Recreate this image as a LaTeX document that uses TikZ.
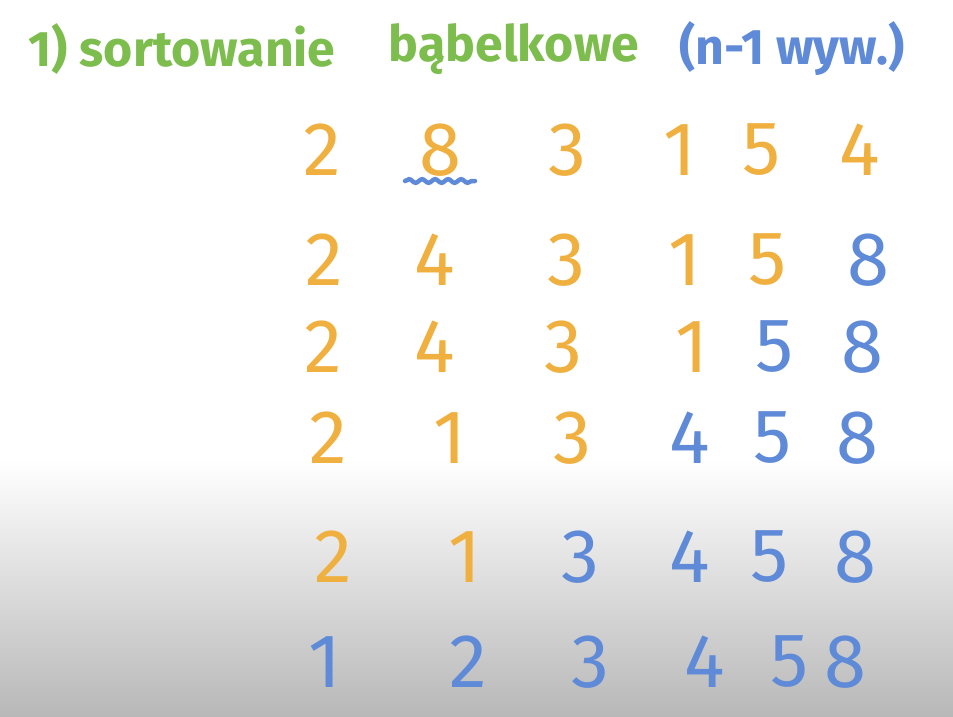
\documentclass[tikz,border=0pt]{standalone}
\usepackage{fontspec}
\setmainfont{Fira Sans}
\usetikzlibrary{decorations.pathmorphing}
\definecolor{hgreen}{RGB}{125,189,78}
\definecolor{horange}{RGB}{240,176,64}
\definecolor{hblue}{RGB}{95,138,216}
\definecolor{bgbottom}{RGB}{184,184,184}
\tikzset{
  dig/.style={font=\fontsize{76}{76}\selectfont, inner sep=0pt, anchor=center},
  od/.style={dig, text=horange},
  bd/.style={dig, text=hblue},
  titlegreen/.style={font=\fontsize{50}{50}\selectfont\bfseries, text=hgreen, inner sep=0pt},
  titleblue/.style={font=\fontsize{50}{50}\selectfont\bfseries, text=hblue, inner sep=0pt},
}
\begin{document}
\begin{tikzpicture}[x=1pt,y=-1pt]
\useasboundingbox (0,0) rectangle (953,716);
\fill[white] (0,0) rectangle (953,460);
\shade[top color=white, bottom color=bgbottom] (0,460) rectangle (953,716);
% title
\node[titlegreen] (t1) at (182,49) {1) sortowanie};
\node[titlegreen] (t2) at (514,49) {bąbelkowe};
\node[titleblue] (t3) at (792,49) {(n-1 wyw.)};
% row 1
\node[od] (a1) at (322,150) {2};
\node[od] (a2) at (440,150) {8};
\node[od] (a3) at (567,150) {3};
\node[od] (a4) at (680,150) {1};
\node[od] (a5) at (762,150) {5};
\node[od] (a6) at (860,150) {4};
\coordinate (w1) at (405,181);
\coordinate (w2) at (475,181);
\draw[hblue, line width=4.5pt, line cap=round, decorate, decoration={snake, amplitude=1.8pt, segment length=13pt}] (w1) -- (w2);
% row 2
\node[od] (b1) at (324,260) {2};
\node[od] (b2) at (435,260) {4};
\node[od] (b3) at (566,260) {3};
\node[od] (b4) at (685,260) {1};
\node[od] (b5) at (768,260) {5};
\node[bd] (b6) at (868,260) {8};
% row 3
\node[od] (c1) at (323,347) {2};
\node[od] (c2) at (435,347) {4};
\node[od] (c3) at (563,347) {3};
\node[od] (c4) at (692,347) {1};
\node[bd] (c5) at (775,347) {5};
\node[bd] (c6) at (862,347) {8};
% row 4
\node[od] (d1) at (328,438) {2};
\node[od] (d2) at (450,438) {1};
\node[od] (d3) at (572,438) {3};
\node[bd] (d4) at (690,438) {4};
\node[bd] (d5) at (773,438) {5};
\node[bd] (d6) at (857,438) {8};
% row 5
\node[od] (e1) at (333,557) {2};
\node[od] (e2) at (465,557) {1};
\node[bd] (e3) at (580,557) {3};
\node[bd] (e4) at (690,557) {4};
\node[bd] (e5) at (770,557) {5};
\node[bd] (e6) at (855,557) {8};
% row 6
\node[bd] (f1) at (325,662) {1};
\node[bd] (f2) at (468,662) {2};
\node[bd] (f3) at (590,662) {3};
\node[bd] (f4) at (705,662) {4};
\node[bd] (f5) at (790,662) {5};
\node[bd] (f6) at (845,662) {8};
\end{tikzpicture}
\end{document}
